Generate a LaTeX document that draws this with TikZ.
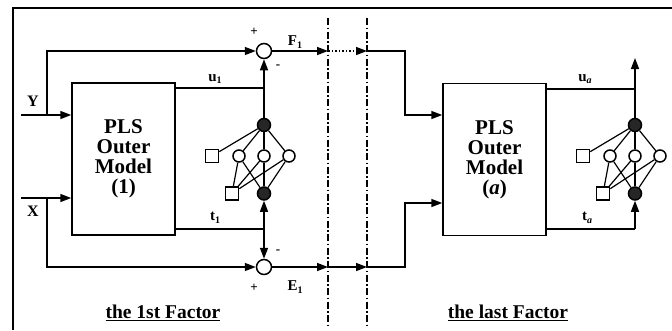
\documentclass[tikz,border=0pt]{standalone}
\usepackage{fontspec}
\setmainfont{Liberation Serif}
\usetikzlibrary{arrows.meta}
\newcommand\subit[1]{\raisebox{-0.4ex}{\fontsize{10}{11}\selectfont\bfseries\itshape #1}}
\newcommand\subup[1]{\raisebox{-0.4ex}{\fontsize{10}{11}\selectfont\bfseries #1}}
\begin{document}
\begin{tikzpicture}[x=1pt,y=-1pt,line width=1.5pt,
  >={Triangle[length=11pt,width=8pt]},
  modelbox/.style={draw,minimum width=103pt,minimum height=152pt,inner sep=0pt,
     font=\bfseries\fontsize{21}{20}\selectfont,align=center},
  sumc/.style={circle,draw,fill=white,minimum size=15pt,inner sep=0pt},
  darkc/.style={circle,draw,fill=black!85,minimum size=13pt,inner sep=0pt},
  hidc/.style={circle,draw,fill=white,minimum size=12pt,inner sep=0pt},
  sqn/.style={draw,fill=white,minimum size=13pt,inner sep=0pt},
  lbl/.style={font=\bfseries\fontsize{16}{18}\selectfont,inner sep=0pt},
  sml/.style={font=\bfseries\fontsize{15}{16}\selectfont,inner sep=0pt},
  sgn/.style={font=\bfseries\fontsize{13}{14}\selectfont,inner sep=0pt},
  factor/.style={font=\bfseries\fontsize{19.5}{21}\selectfont,inner sep=0pt},
  dashdot/.style={line width=1.2pt,dash pattern=on 7pt off 2.5pt on 1.5pt off 2.5pt}]
\useasboundingbox (0,0) rectangle (672,330);
% frame
\coordinate (fbl) at (13,330);
\coordinate (ftl) at (13,8);
\coordinate (ftr) at (672,8);
\draw[line width=1.6pt] (fbl) -- (ftl) -- (ftr);
% dash-dot separators
\coordinate (s1t) at (328,18); \coordinate (s1b) at (328,325);
\coordinate (s2t) at (367,18); \coordinate (s2b) at (367,325);
\draw[dashdot] (s1t) -- (s1b);
\draw[dashdot] (s2t) -- (s2b);
% boxes
\node[modelbox] (box1) at (123.5,159) {PLS\\Outer\\Model\\(1)};
\node[modelbox] (box2) at (494.5,159.5) {PLS\\Outer\\Model\\(\textit{a})};
% networks
\foreach \p/\o in {a/0,b/371}{
  \node[darkc] (\p o) at (264+\o,125) {};
  \node[sqn] (\p s) at (212+\o,156) {};
  \node[hidc] (\p h1) at (239+\o,156) {};
  \node[hidc] (\p h2) at (264+\o,156) {};
  \node[hidc] (\p h3) at (289+\o,156) {};
  \node[sqn] (\p b) at (232+\o,193.5) {};
  \node[darkc] (\p i) at (264+\o,193.5) {};
  \draw[line width=1.2pt] (\p o) -- (\p s);
  \foreach \h in {1,2,3}{
    \draw[line width=1.2pt] (\p o) -- (\p h\h);
    \draw[line width=1.2pt] (\p b) -- (\p h\h);
    \draw[line width=1.2pt] (\p i) -- (\p h\h);
  }
}
% summing circles
\node[sumc] (sum1) at (264,51) {};
\node[sumc] (sum2) at (264,267) {};
% inputs
\coordinate (yin) at (21,115);
\coordinate (yb) at (47,115);
\coordinate (xin) at (21,198);
\coordinate (xb) at (47,198);
\draw[->] (yin) -- (yin -| box1.west);
\draw[->] (yb) |- (sum1.west);
\draw[->] (xin) -- (xin -| box1.west);
\draw[->] (xb) |- (sum2.west);
\node[lbl] (ylab) at (33,101) {Y};
\node[lbl] (xlab) at (33,211) {X};
% u1, t1
\coordinate (u1c) at (264,88);
\draw (box1.east |- u1c) -- (u1c);
\draw[->] (ao.north) -- (sum1.south);
\coordinate (t1c) at (264,229);
\draw (box1.east |- t1c) -- (t1c);
\draw[->] (t1c) -- (ai.south);
\draw[->] (t1c) -- (sum2.north);
\node[sml] (u1lab) at (215,79) {u\subup{1}};
\node[sml] (t1lab) at (215,218) {t\subup{1}};
\node[sgn] (p1) at (254,32) {+};
\node[sgn] (m1) at (278,67) {-};
\node[sgn] (m2) at (278,252) {-};
\node[sgn] (p2) at (254,288) {+};
\node[sml] (f1lab) at (295,42) {F\subup{1}};
\node[sml] (e1lab) at (295,287) {E\subup{1}};
% F1 path across the separators
\coordinate (d1u) at (328,51);
\coordinate (d2u) at (367,51);
\coordinate (k1) at (405,51);
\draw[->] (sum1.east) -- (d1u);
\draw[->,dotted] (d1u) -- (d2u);
\draw[->] (d2u) -- (k1) |- (box2.west |- yin);
% E1 path
\coordinate (d1l) at (328,267);
\coordinate (d2l) at (367,267);
\coordinate (k2) at (405,203);
\draw[->] (sum2.east) -- (d1l);
\draw[->] (d1l) -- (d2l);
\draw[->] (d2l) -| (k2) -- (k2 -| box2.west);
% ua, ta
\coordinate (u2c) at (635,89);
\coordinate (uout) at (635,58);
\draw (box2.east |- u2c) -- (u2c);
\draw[->] (bo.north) -- (uout);
\coordinate (t2c) at (635,229);
\draw (box2.east |- t2c) -- (t2c);
\draw[->] (t2c) -- (bi.south);
\node[sml] (u2lab) at (585,79) {u\subit{a}};
\node[sml] (t2lab) at (587,218) {t\subit{a}};
% factor captions
\node[factor] (fc1) at (163,313) {\underline{the 1st Factor}};
\node[factor] (fc2) at (508,313) {\underline{the last Factor}};
\end{tikzpicture}
\end{document}
